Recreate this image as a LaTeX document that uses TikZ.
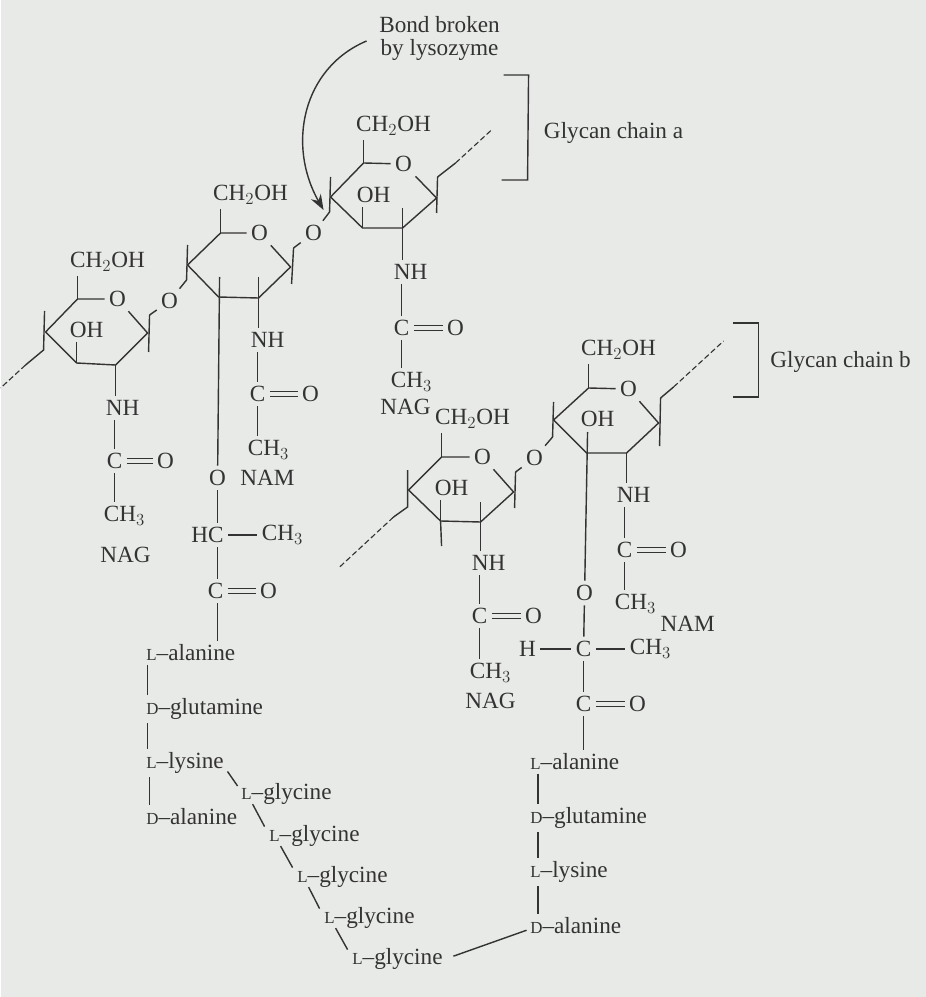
\documentclass[tikz,border=0pt]{standalone}
\usepackage{amsmath}
\usepackage{fontspec}
\setmainfont{Liberation Serif}
\usepackage{tikz}
\usetikzlibrary{arrows.meta, calc}
\definecolor{paper}{HTML}{E8EAE7}
\definecolor{ink}{HTML}{333333}
\tikzset{
  atom/.style={inner sep=3pt, text=ink, font=\fontsize{16.5}{18}\selectfont},
  acid/.style={atom, anchor=west, inner sep=2.5pt},
  bond/.style={draw=ink, line width=1pt},
  dbl/.style={draw=ink, double=paper, double distance=2.4pt, line width=0.7pt},
  chainend/.style={draw=ink, dashed, dash pattern=on 4pt off 2pt, line width=0.8pt}
}
\newcommand{\amL}{{\fontsize{12}{12}\selectfont L}--}
\newcommand{\amD}{{\fontsize{12}{12}\selectfont D}--}
\begin{document}
\begin{tikzpicture}[x=0.025cm, y=-0.025cm]
\fill[paper] (0,0) rectangle (925,997);

% Labels
\node[atom] (bondA) at (439,25) {Bond broken};
\node[atom] (bondB) at (439,50) {by lysozyme};
\node[atom] (chainA) at (613,133) {Glycan chain a};
\node[atom] (chainB) at (840,362) {Glycan chain b};
\draw[bond] (503,75) -- (528,75) -- (527,180) -- (501,180);
\draw[bond] (732,323) -- (758,323) -- (758,397) -- (732,397);

% Top NAG ring (chain a)
\node[atom] (chA) at (393,126) {CH$_2$OH};
\node[atom] (oA) at (403,164) {O};
\node[atom] (ohA) at (373,195) {OH};
\coordinate (a1) at (363,163);
\coordinate (a2) at (436,198);
\coordinate (a3) at (402,228);
\coordinate (a4) at (362,228);
\coordinate (a5) at (330,197);
\draw[bond] (oA) -- (a1) -- (a5) -- (a4) -- (a3) -- (a2) -- (oA);
\draw[bond] (a1) -- (chA.south -| a1);
\draw[bond] (a4) -- (ohA.south -| a4);
\draw[bond] (402,208) -- (a3);
\draw[bond] (330,177) -- (329,212);
\draw[bond] (437,177) -- (436,213);
\draw[bond] (437,177) -- (455,163);
\draw[chainend] (455,163) -- (492,129);

% Bond broken arrow
\draw[bond, -{Stealth[length=11pt, width=8pt]}] (366,41) .. controls (302,68) and (286,145) .. (323,210);

% NAG side chain a
\node[atom] (nhA) at (410,272) {NH};
\node[atom] (cA) at (401,328) {C};
\node[atom] (dA) at (455,328) {O};
\node[atom] (meA) at (411,382) {CH$_3$};
\node[atom] (nagA) at (405,407) {NAG};
\draw[bond] (a3) -- (nhA.north -| a3);
\draw[bond] (nhA.south -| cA) -- (cA);
\draw[dbl] (cA) -- (dA);
\draw[bond] (cA) -- (meA.north -| cA);

% Middle NAM ring
\node[atom] (chM) at (250,195) {CH$_2$OH};
\node[atom] (oM) at (259,233) {O};
\node[atom] (lnkA) at (313,233) {O};
\coordinate (m1) at (220,233);
\coordinate (m2) at (290,267);
\coordinate (m3) at (258,298);
\coordinate (m4) at (218,297);
\coordinate (m5) at (187,265);
\draw[bond] (oM) -- (m1) -- (m5) -- (m4) -- (m3) -- (m2) -- (oM);
\draw[bond] (m1) -- (chM.south -| m1);
\draw[bond] (187,245) -- (186,280);
\draw[bond] (293,248) -- (291,284);
\draw[bond] (293,248) -- (lnkA);
\draw[bond] (lnkA) -- (329,212);
\draw[bond] (258,277) -- (m3);

% NAM side chains
\node[atom] (nhM) at (267,340) {NH};
\node[atom] (cM) at (257,394) {C};
\node[atom] (dM) at (310,394) {O};
\node[atom] (meM) at (268,450) {CH$_3$};
\node[atom] (namM) at (267,478) {NAM};
\node[atom] (oLac) at (217,478) {O};
\node[atom] (hcLac) at (207,535) {HC};
\node[atom] (meLac) at (282,535) {CH$_3$};
\node[atom] (cLac) at (215,591) {C};
\node[atom] (dLac) at (268,591) {O};
\draw[bond] (m3) -- (nhM.north -| m3);
\draw[bond] (nhM.south -| cM) -- (cM);
\draw[dbl] (cM) -- (dM);
\draw[bond] (cM) -- (meM.north -| cM);
\draw[bond] (219,277) -- (oLac);
\draw[bond] (oLac) -- (hcLac.north -| oLac);
\draw[bond] (hcLac) -- (meLac);
\draw[bond] (hcLac.south -| oLac) -- (cLac.north -| oLac);
\draw[dbl] (cLac) -- (dLac);

% Left NAG ring
\node[atom] (chL) at (107,262) {CH$_2$OH};
\node[atom] (oL) at (117,299) {O};
\node[atom] (ohL) at (86,330) {OH};
\node[atom] (lnkB) at (169,301) {O};
\coordinate (l1) at (77,299);
\coordinate (l2) at (147,333);
\coordinate (l3) at (115,365);
\coordinate (l4) at (76,363);
\coordinate (l5) at (45,332);
\draw[bond] (oL) -- (l1) -- (l5) -- (l4) -- (l3) -- (l2) -- (oL);
\draw[bond] (l1) -- (chL.south -| l1);
\draw[bond] (l4) -- (ohL.south -| l4);
\draw[bond] (44,311) -- (43,350) -- (25,365);
\draw[chainend] (25,365) -- (0,388);
\draw[bond] (149,315) -- (148,352);
\draw[bond] (149,315) -- (lnkB);
\draw[bond] (lnkB) -- (186,280);

% Left NAG side chain
\node[atom] (nhL) at (122,408) {NH};
\node[atom] (cL) at (114,461) {C};
\node[atom] (dL) at (165,461) {O};
\node[atom] (meL) at (124,516) {CH$_3$};
\node[atom] (nagL) at (125,555) {NAG};
\draw[bond] (l3) -- (nhL.north -| l3);
\draw[bond] (nhL.south -| cL) -- (cL);
\draw[dbl] (cL) -- (dL);
\draw[bond] (cL) -- (meL.north -| cL);

% Peptide chain a
\node[acid] (alaA) at (142,653) {\amL alanine};
\node[acid] (gluA) at (142,709) {\amD glutamine};
\node[acid] (lysA) at (142,763) {\amL lysine};
\node[acid] (dalA) at (142,817) {\amD alanine};
\draw[bond] (cLac.south -| oLac) -- (alaA.north -| oLac);
\draw[bond] ([xshift=3.5]alaA.south west) -- ([xshift=3.5]gluA.north west);
\draw[bond] ([xshift=3.5]gluA.south west) -- ([xshift=3.5]lysA.north west);
\draw[bond] ([xshift=5]lysA.south west) -- ([xshift=5]dalA.north west);

% Glycine bridge
\node[acid] (glyA) at (237,794) {\amL glycine};
\node[acid] (glyB) at (265,836) {\amL glycine};
\node[acid] (glyC) at (293,877) {\amL glycine};
\node[acid] (glyD) at (320,918) {\amL glycine};
\node[acid] (glyE) at (348,959) {\amL glycine};
\draw[bond] ([yshift=-6]lysA.east) -- ([yshift=-4.5]glyA.north west);
\draw[bond] ([xshift=10.7,yshift=3]glyA.south west) -- ([xshift=-0.7,yshift=-3.5]glyB.north west);
\draw[bond] ([xshift=10.7,yshift=3]glyB.south west) -- ([xshift=-0.7,yshift=-3.5]glyC.north west);
\draw[bond] ([xshift=10.7,yshift=3]glyC.south west) -- ([xshift=-0.7,yshift=-3.5]glyD.north west);
\draw[bond] ([xshift=10.7,yshift=3]glyD.south west) -- ([xshift=-0.7,yshift=-3.5]glyE.north west);

% Lower NAG ring (chain b)
\node[atom] (chN) at (472,419) {CH$_2$OH};
\node[atom] (oN) at (482,457) {O};
\node[atom] (ohN) at (451,488) {OH};
\node[atom] (lnkC) at (534,458) {O};
\coordinate (n1) at (441,457);
\coordinate (n2) at (513,492);
\coordinate (n3) at (480,522);
\coordinate (n4) at (440,521);
\coordinate (n5) at (408,490);
\draw[bond] (oN) -- (n1) -- (n5) -- (n4) -- (n3) -- (n2) -- (oN);
\draw[bond] (n1) -- (chN.south -| n1);
\draw[bond] (n4) -- (ohN.south -| n4);
\draw[bond] (n4) -- (441,546);
\draw[bond] (480,502) -- (n3);
\draw[bond] (407,470) -- (407,507) -- (393,517);
\draw[chainend] (393,517) -- (338,568);
\draw[bond] (515,472) -- (514,508);
\draw[bond] (515,472) -- (lnkC);

% Lower NAG side chain
\node[atom] (nhN) at (488,563) {NH};
\node[atom] (cN) at (479,616) {C};
\node[atom] (dN) at (533,616) {O};
\node[atom] (meN) at (490,673) {CH$_3$};
\node[atom] (nagN) at (490,701) {NAG};
\draw[bond] (n3) -- (nhN.north -| n3);
\draw[bond] (nhN.south -| cN) -- (cN);
\draw[dbl] (cN) -- (dN);
\draw[bond] (cN) -- (meN.north -| cN);

% Lower NAM ring (chain b)
\node[atom] (chP) at (618,350) {CH$_2$OH};
\node[atom] (oP) at (628,389) {O};
\node[atom] (ohP) at (597,419) {OH};
\coordinate (p1) at (588,388);
\coordinate (p2) at (658,423);
\coordinate (p3) at (626,453);
\coordinate (p4) at (586,453);
\coordinate (p5) at (553,420);
\draw[bond] (oP) -- (p1) -- (p5) -- (p4) -- (p3) -- (p2) -- (oP);
\draw[bond] (p1) -- (chP.south -| p1);
\draw[bond] (553,402) -- (552,437);
\draw[bond] (552,437) -- (lnkC);
\draw[bond] (660,398) -- (659,446);
\draw[bond] (660,398) -- (673,387);
\draw[chainend] (673,387) -- (723,341);

% NAM side chains (chain b)
\node[atom] (nhP) at (633,495) {NH};
\node[atom] (cP) at (624,550) {C};
\node[atom] (dP) at (678,550) {O};
\node[atom] (meP) at (635,604) {CH$_3$};
\node[atom] (namP) at (687,624) {NAM};
\node[atom] (oLacP) at (584,593) {O};
\node[atom] (hLacP) at (527,649) {H};
\node[atom] (cLacP) at (583,649) {C};
\node[atom] (meLacP) at (650,649) {CH$_3$};
\node[atom] (cCoP) at (583,704) {C};
\node[atom] (dCoP) at (637,704) {O};
\draw[bond] (p3) -- (nhP.north -| p3);
\draw[bond] (nhP.south -| cP) -- (cP);
\draw[dbl] (cP) -- (dP);
\draw[bond] (cP) -- (meP.north -| cP);
\draw[bond] (587,432) -- (oLacP);
\draw[bond] (oLacP) -- (cLacP);
\draw[bond] (hLacP) -- (cLacP);
\draw[bond] (cLacP) -- (meLacP);
\draw[bond] (cLacP) -- (cCoP);
\draw[dbl] (cCoP) -- (dCoP);

% Peptide chain b
\node[acid] (alaB) at (526,762) {\amL alanine};
\node[acid] (gluB) at (526,818) {\amD glutamine};
\node[acid] (lysB) at (526,872) {\amL lysine};
\node[acid] (dalB) at (526,926) {\amD alanine};
\draw[bond] (cCoP) -- (cCoP |- alaB.north);
\draw[bond] ([xshift=8]alaB.south west) -- ([xshift=8]gluB.north west);
\draw[bond] ([xshift=8]gluB.south west) -- ([xshift=8]lysB.north west);
\draw[bond] ([xshift=8]lysB.south west) -- ([xshift=8]dalB.north west);
\draw[bond] ([yshift=-3]dalB.west) -- ([xshift=5,yshift=2]glyE.east);
\end{tikzpicture}
\end{document}
